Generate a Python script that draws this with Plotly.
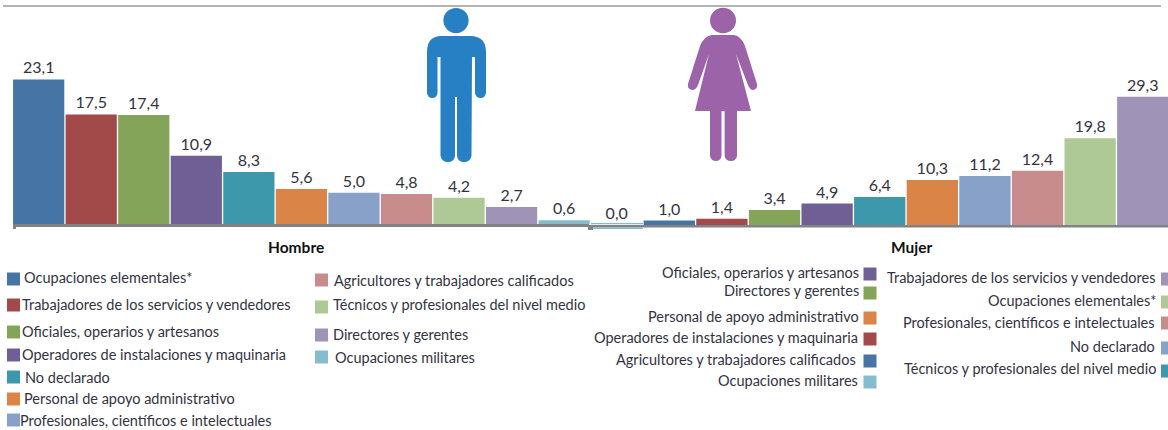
import plotly.graph_objects as go

W, H = 1168, 430

hombre_cats = ["Ocupaciones elementales*", "Trabajadores de los servicios y vendedores",
               "Oficiales, operarios y artesanos", "Operadores de instalaciones y maquinaria",
               "No declarado", "Personal de apoyo administrativo",
               "Profesionales, científicos e intelectuales", "Agricultores y trabajadores calificados",
               "Técnicos y profesionales del nivel medio", "Directores y gerentes", "Ocupaciones militares"]
hombre_vals = [23.1, 17.5, 17.4, 10.9, 8.3, 5.6, 5.0, 4.8, 4.2, 2.7, 0.6]

mujer_cats = ["Ocupaciones militares", "Agricultores y trabajadores calificados",
              "Operadores de instalaciones y maquinaria", "Directores y gerentes",
              "Oficiales, operarios y artesanos", "Técnicos y profesionales del nivel medio",
              "Personal de apoyo administrativo", "No declarado",
              "Profesionales, científicos e intelectuales", "Ocupaciones elementales*",
              "Trabajadores de los servicios y vendedores"]
mujer_vals = [0.0, 1.0, 1.4, 3.4, 4.9, 6.4, 10.3, 11.2, 12.4, 19.8, 29.3]

palette = ["#4674a5", "#a24a4a", "#84a45a", "#705f95", "#3d98ac", "#da8447",
           "#87a1c8", "#c98c8c", "#afc996", "#a093b8", "#85bdcd"]
mujer_palette = ["#85bdcd", "#4674a5", "#a24a4a", "#84a45a", "#705f95", "#3d98ac",
                 "#da8447", "#87a1c8", "#c98c8c", "#afc996", "#a093b8"]

FONT = "Lato, sans-serif"
TEXT = "#33333f"
AXIS = "#808285"


def label(v):
    return f"{v:.1f}".replace(".", ",")


def X(p):
    return p / W


def Y(p):
    return 1 - p / H


fig = go.Figure()
fig.add_bar(x=hombre_cats, y=hombre_vals, xaxis="x", yaxis="y", marker_color=palette,
            marker_line_width=0, text=[label(v) for v in hombre_vals], textposition="outside",
            textfont=dict(family=FONT, size=16, color=TEXT), cliponaxis=False)
fig.add_bar(x=mujer_cats, y=mujer_vals, xaxis="x2", yaxis="y2", marker_color=mujer_palette,
            marker_line_width=0, text=[label(v) for v in mujer_vals], textposition="outside",
            textfont=dict(family=FONT, size=16, color=TEXT), cliponaxis=False)

shapes = []


def rect(x0, y0, x1, y1, color):
    shapes.append(dict(type="rect", xref="paper", yref="paper", x0=X(x0), x1=X(x1), y0=Y(y1), y1=Y(y0),
                       fillcolor=color, line_width=0, layer="above"))


def path(points, color):
    d = ""
    for tok in points:
        if isinstance(tok, str):
            d += tok + " "
        else:
            d += f"{X(tok[0]):.5f},{Y(tok[1]):.5f} "
    shapes.append(dict(type="path", xref="paper", yref="paper", path=d + "Z", fillcolor=color,
                       line_width=0, layer="above"))


def ellipse(cx, cy, rx, ry, color):
    shapes.append(dict(type="circle", xref="paper", yref="paper", x0=X(cx - rx), x1=X(cx + rx),
                       y0=Y(cy + ry), y1=Y(cy - ry), fillcolor=color, line_width=0, layer="above"))


# frame lines and axis end ticks
rect(3, 5.3, 1161, 6.8, "#9a9a9a")
rect(13, 224, 589, 227, AXIS)
rect(13, 224, 16, 229, AXIS)
rect(588, 225, 1168, 227.5, AXIS)
rect(588, 225, 593, 230, AXIS)
rect(591, 223, 643, 224.2, "#85bdcd")
rect(593, 227.5, 643, 229, "#85bdcd")

# man pictogram
MAN = "#2780c4"
ellipse(456, 20.5, 12.6, 12.6, MAN)
path(["M", (440, 36), "L", (472, 36), "Q", (486, 37), (486, 52), "L", (486, 93), "Q", (485, 98), (480.5, 98),
      "Q", (476, 98), (475, 93), "L", (475, 57), "L", (472, 57), "L", (471.5, 156), "Q", (470, 162), (464, 162),
      "Q", (458, 162), (457, 156), "L", (457, 97), "L", (455, 97), "L", (455, 156), "Q", (454, 162), (448, 162),
      "Q", (442, 162), (440.5, 156), "L", (440.5, 57), "L", (437.5, 57), "L", (437.5, 93), "Q", (437, 98), (432, 98),
      "Q", (428, 98), (427, 93), "L", (427, 52), "Q", (427, 37), (440, 36)], MAN)

# woman pictogram
WOMAN = "#9c63a9"
ellipse(723, 20.5, 13, 12.8, WOMAN)
path(["M", (712, 35), "L", (734, 35), "Q", (741, 36), (745, 46), "L", (757, 84), "Q", (758, 89), (753, 90),
      "Q", (750, 90), (748, 85), "L", (736, 54), "L", (751, 111), "L", (737, 111), "L", (737, 156),
      "Q", (736, 161), (731, 161), "Q", (725.5, 161), (724.6, 156), "L", (724.6, 111), "L", (721.5, 111),
      "L", (721.5, 156), "Q", (720.5, 161), (716, 161), "Q", (711, 161), (710, 156), "L", (710, 111),
      "L", (695, 111), "L", (709, 54), "L", (698, 85), "Q", (696, 90), (692, 90), "Q", (687, 89), (688, 84),
      "L", (700, 46), "Q", (704, 36), (712, 35)], WOMAN)

annotations = []


def text(s, x, y, anchor="left", size=14.5, bold=False, color=TEXT):
    annotations.append(dict(text=f"<b>{s}</b>" if bold else s, xref="paper", yref="paper", x=X(x), y=Y(y),
                            xanchor=anchor, yanchor="middle", showarrow=False, align=anchor,
                            font=dict(family=FONT, size=size, color=color), borderpad=0, borderwidth=0))


text("Hombre", 296, 246.5, "center", 15.5, True, "#111111")
text("Mujer", 911, 246.5, "center", 15.5, True, "#111111")

# legend layout: swatch x, swatch centre y, text x, text centre y
legend_hombre_layout = [
    (7, 279, 24, 277.5), (7, 305, 22, 304.5), (7, 332, 22, 331.5), (7, 355, 22, 354.5),
    (7, 377, 25, 377.5), (7, 399, 24, 398.5), (7, 420, 20, 420.5),
    (315, 280, 334, 280.5), (315, 307, 333, 304.5), (315, 335, 333, 334.5), (315, 357, 335, 357.5),
]
for cat, col, (sx, sy, tx, ty) in zip(hombre_cats, palette, legend_hombre_layout):
    rect(sx, sy - 6.5, sx + 13, sy + 6.5, col)
    text(cat, tx, ty)

legend_mujer_cats = ["Oficiales, operarios y artesanos", "Directores y gerentes",
                     "Personal de apoyo administrativo", "Operadores de instalaciones y maquinaria",
                     "Agricultores y trabajadores calificados", "Ocupaciones militares",
                     "Trabajadores de los servicios y vendedores", "Ocupaciones elementales*",
                     "Profesionales, científicos e intelectuales", "No declarado",
                     "Técnicos y profesionales del nivel medio"]
legend_mujer_colors = ["#705f95", "#84a45a", "#da8447", "#a24a4a", "#4674a5", "#85bdcd",
                       "#a093b8", "#afc996", "#c98c8c", "#87a1c8", "#3d98ac"]
legend_mujer_layout = [
    (863.5, 274, 859, 272.5), (863.5, 293, 859, 290.5), (863.5, 318, 859, 316.5), (863.5, 339, 858, 337.5),
    (863.5, 361, 856, 359.5), (863.5, 382, 858, 380.5),
    (1161, 279, 1155, 277.5), (1161, 302, 1156, 300.5), (1161, 323, 1155, 322.5), (1161, 348, 1155, 346.5),
    (1161, 371, 1156, 368.5),
]
for cat, col, (sx, sy, tx, ty) in zip(legend_mujer_cats, legend_mujer_colors, legend_mujer_layout):
    rect(sx, sy - 6.5, sx + 13, sy + 6.5, col)
    text(cat, tx, ty, "right")

base_l, base_r = 224, 225
scale_l, scale_r = 6.26, 4.38
fig.update_layout(
    width=W, height=H, margin=dict(l=0, r=0, t=0, b=0), showlegend=False,
    paper_bgcolor="white", plot_bgcolor="white", bargap=0.025,
    xaxis=dict(domain=[X(12.4), X(590.4)], range=[-0.5, 10.5], visible=False, anchor="y",
               categoryorder="array", categoryarray=hombre_cats),
    yaxis=dict(domain=[Y(base_l), 1], range=[0, base_l / scale_l], visible=False, anchor="x"),
    xaxis2=dict(domain=[X(590.4), 1], range=[-0.5, 10.48], visible=False, anchor="y2",
                categoryorder="array", categoryarray=mujer_cats),
    yaxis2=dict(domain=[Y(base_r), 1], range=[0, base_r / scale_r], visible=False, anchor="x2"),
    shapes=shapes, annotations=annotations,
)
fig.write_html("out.html", config={"displayModeBar": False},
               post_script="document.body.style.margin='0';document.body.style.overflow='hidden';")
